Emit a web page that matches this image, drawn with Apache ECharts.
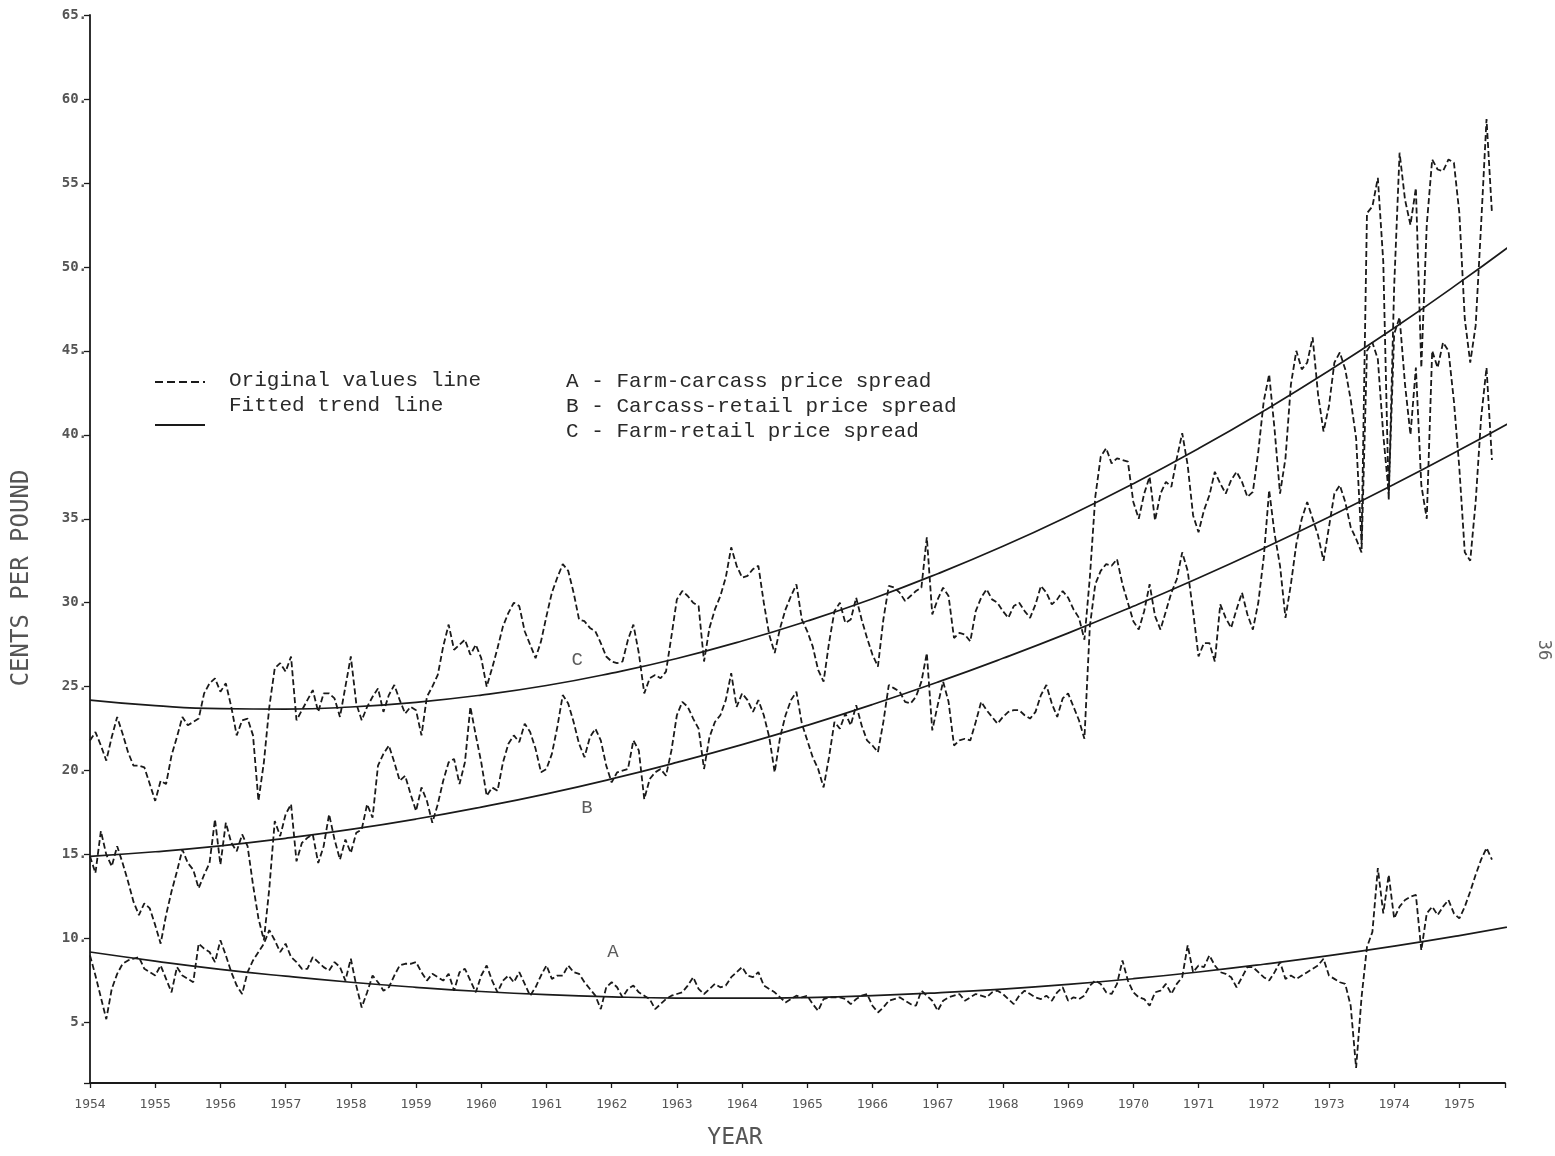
<!DOCTYPE html>
<html><head><meta charset="utf-8">
<script src="https://cdn.jsdelivr.net/npm/echarts@6/dist/echarts.min.js"></script>
<style>html,body{margin:0;padding:0;background:#fff}#c{width:1555px;height:1156px}</style>
</head><body><div id="c"></div>
<script>
// Monthly observations, starting January 1954 (one value per month)
const startYear = 1954;
const seriesA = [
9.0,7.8,6.5,5.2,7.0,7.9,8.5,8.7,8.8,8.9, 8.2,8.0,7.8,8.4,7.6,6.8,8.3,7.8,7.6,7.4,
9.7,9.4,9.2,8.6,9.9,9.0,8.0,7.2,6.7,8.0, 8.7,9.2,9.7,10.5,9.9,9.2,9.7,8.9,8.6,8.2,
8.2,8.9,8.6,8.3,8.1,8.6,8.3,7.5,8.8,7.2, 5.9,6.8,7.8,7.4,6.9,7.1,7.8,8.4,8.5,8.5,
8.6,8.0,7.5,7.9,7.7,7.5,7.9,6.9,8.0,8.2, 7.5,6.8,7.8,8.4,7.5,6.8,7.5,7.8,7.4,8.0,
7.3,6.6,7.1,7.8,8.4,7.6,7.8,7.8,8.4,8.0, 7.9,7.4,7.0,6.6,5.8,7.1,7.4,7.1,6.5,7.0,
7.2,6.8,6.6,6.4,5.8,6.1,6.4,6.6,6.7,6.8, 7.2,7.7,7.0,6.7,7.0,7.3,7.1,7.2,7.7,8.0,
8.3,7.8,7.7,8.0,7.2,7.0,6.8,6.5,6.2,6.4, 6.6,6.5,6.6,6.1,5.7,6.4,6.5,6.5,6.5,6.4,
6.1,6.4,6.6,6.7,6.0,5.6,5.9,6.3,6.4,6.5, 6.3,6.1,6.0,6.9,6.6,6.3,5.7,6.3,6.5,6.6,
6.7,6.3,6.5,6.7,6.6,6.5,6.8,6.9,6.7,6.4, 6.1,6.6,6.9,6.7,6.5,6.4,6.6,6.3,6.8,7.1,
6.3,6.5,6.4,6.6,7.2,7.5,7.3,6.8,6.7,7.3, 8.7,7.5,6.8,6.5,6.4,6.0,6.8,6.9,7.3,6.7,
7.3,7.7,9.6,8.0,8.4,8.3,9.0,8.4,8.0,7.9, 7.7,7.1,7.7,8.3,8.3,8.0,7.7,7.5,8.0,8.6,
7.6,7.8,7.6,7.8,8.0,8.2,8.4,8.8,7.8,7.6, 7.4,7.3,6.0,2.3,6.5,9.5,10.4,14.2,11.5,13.8,
11.2,11.9,12.3,12.5,12.6,9.3,11.5,11.9,11.4,11.9, 12.3,11.5,11.2,11.9,12.8,13.8,14.7,15.4,14.7
];
const seriesB = [
14.9,13.9,16.4,15.0,14.3,15.5,14.5,13.4,12.2,11.4, 12.1,11.8,10.8,9.7,11.4,12.8,14.0,15.3,14.5,14.1,
13.0,13.8,14.5,17.1,14.4,16.9,15.7,15.2,16.2,15.5, 13.2,11.2,9.9,13.0,17.0,16.1,17.4,18.0,14.6,15.7,
16.0,16.2,14.5,15.5,17.4,15.9,14.7,15.9,15.1,16.3, 16.5,18.0,17.2,20.3,21.0,21.5,20.5,19.4,19.7,18.6,
17.6,19.0,18.2,16.9,18.0,19.4,20.5,20.7,19.2,20.5, 23.8,22.1,20.5,18.5,19.0,18.8,20.5,21.6,22.1,21.7,
22.8,22.3,21.3,19.9,20.1,21.0,22.6,24.5,24.0,22.9, 21.6,20.8,22.0,22.5,21.8,20.3,19.3,19.9,20.0,20.1,
21.8,21.2,18.3,19.5,19.9,20.1,19.7,21.2,23.3,24.1, 23.8,23.1,22.5,20.1,22.0,22.9,23.3,24.2,25.8,23.8,
24.6,24.2,23.5,24.2,23.3,22.0,19.9,22.0,23.3,24.2, 24.7,22.8,21.8,20.8,20.1,19.0,20.8,22.9,22.5,23.4,
22.7,23.9,22.7,21.8,21.5,21.1,22.9,25.1,24.9,24.7, 24.1,24.0,24.4,25.3,27.0,22.4,23.9,25.3,24.1,21.5,
21.8,21.9,21.8,22.9,24.1,23.6,23.2,22.8,23.2,23.5, 23.6,23.6,23.3,23.1,23.5,24.5,25.1,24.0,23.2,24.3,
24.6,23.8,23.0,21.9,28.6,31.1,31.9,32.3,32.2,32.6, 31.1,30.0,28.9,28.4,29.5,31.1,29.2,28.4,29.5,30.6,
31.4,33.0,31.9,29.5,26.8,27.6,27.6,26.5,29.9,29.1, 28.5,29.6,30.6,29.3,28.4,30.0,32.7,36.7,34.1,32.2,
29.1,31.1,33.5,35.0,36.0,35.0,34.0,32.5,34.5,36.5, 37.0,36.0,34.5,33.8,33.0,45.0,45.5,44.5,40.0,36.5,
46.0,47.0,43.0,40.0,44.0,37.0,35.0,45.0,44.0,45.5, 45.0,42.0,38.0,33.0,32.5,36.0,41.0,44.0,38.5
];
const seriesC = [
21.8,22.3,21.5,20.6,22.0,23.2,22.2,21.1,20.3,20.3, 20.2,19.2,18.2,19.4,19.2,20.9,22.0,23.2,22.7,22.9,
23.1,24.6,25.2,25.5,24.7,25.2,23.8,22.1,23.0,23.1, 22.1,18.2,20.5,23.8,26.1,26.4,25.9,26.8,23.0,23.6,
24.2,24.8,23.5,24.6,24.6,24.3,23.2,25.0,26.8,24.0, 23.0,23.8,24.4,24.9,23.5,24.5,25.1,24.2,23.4,23.8,
23.6,22.1,24.4,25.0,25.7,27.4,28.7,27.2,27.5,27.8, 26.9,27.5,26.7,25.0,26.1,27.3,28.6,29.4,30.0,29.8,
28.3,27.5,26.7,27.7,29.2,30.6,31.5,32.3,31.9,30.6, 29.0,28.9,28.5,28.3,27.6,26.8,26.5,26.4,26.5,27.8,
28.7,27.0,24.6,25.5,25.7,25.5,25.9,28.0,30.2,30.7, 30.4,30.0,29.8,26.5,28.5,29.6,30.4,31.5,33.3,32.2,
31.5,31.6,32.0,32.2,30.0,28.1,27.0,28.5,29.6,30.4, 31.1,29.0,28.3,27.4,26.0,25.3,27.6,29.5,30.0,28.8,
29.0,30.3,29.0,27.9,26.9,26.2,29.0,31.0,30.9,30.6, 30.1,30.4,30.7,30.9,33.9,29.3,30.2,30.9,30.4,27.9,
28.2,28.1,27.7,29.5,30.3,30.8,30.2,30.0,29.5,29.1, 29.8,30.0,29.5,29.1,29.9,31.0,30.6,29.9,30.2,30.7,
30.3,29.6,29.1,27.8,31.5,36.3,38.7,39.2,38.3,38.6, 38.5,38.4,36.0,35.0,36.5,37.5,34.9,36.5,37.2,36.9,
38.6,40.1,38.2,35.2,34.2,35.5,36.4,37.8,37.1,36.5, 37.3,37.8,37.2,36.3,36.6,39.0,42.0,43.6,40.3,36.5,
38.6,43.0,45.0,43.9,44.3,45.8,42.4,40.2,41.7,44.3, 44.9,43.9,42.1,39.8,33.5,53.2,53.6,55.3,50.3,36.1,
48.8,56.8,54.0,52.5,54.7,44.0,52.5,56.4,55.8,55.7, 56.4,56.2,53.2,46.9,44.3,46.5,52.5,58.8,53.2
];
// Fitted trend lines read at each year
const trendYears = [1954,1955,1956,1957,1958,1959,1960,1961,1962,1963,1964,1965,1966,1967,1968,1969,1970,1971,1972,1973,1974,1975,1975.9];
const trendA = [9.20,8.66,8.17,7.76,7.40,7.10,6.85,6.66,6.53,6.46,6.45,6.49,6.60,6.77,6.99,7.27,7.61,8.01,8.47,8.98,9.55,10.18,10.80];
const trendB = [14.90,15.17,15.52,15.97,16.50,17.12,17.83,18.62,19.51,20.49,21.55,22.70,23.94,25.27,26.69,28.19,29.79,31.47,33.24,35.10,37.05,39.09,41.00];
const trendC = [24.20,23.87,23.69,23.67,23.79,24.07,24.50,25.07,25.81,26.68,27.72,28.91,30.24,31.73,33.36,35.15,37.09,39.18,41.42,43.81,46.36,49.06,51.61];
// Curve labels: [text, year, value]
const curveLabels = [['A',1962.02,9.2],['B',1961.62,17.8],['C',1961.47,26.6]];
const legendLeft = ['Original values line','Fitted trend line'];
const legendRight = ['A - Farm-carcass price spread','B - Carcass-retail price spread','C - Farm-retail price spread'];

const monthly = vals => vals.map((v,i)=>[startYear + i/12, v]);
const pair = (xs, ys) => xs.map((x,i)=>[x, ys[i]]);

const ink = '#1a1a1a';
const dashStyle = {color: ink, width: 1.8, type: [6,3]};
const solidStyle = {color: ink, width: 1.7};
const mono = 'DejaVu Sans Mono';
const typew = 'Liberation Mono';

const chart = echarts.init(document.getElementById('c'), null, {renderer:'canvas'});
chart.setOption({
  backgroundColor: '#ffffff',
  animation: false,
  grid: {left: 90, right: 50, top: 15, bottom: 73},
  xAxis: {
    type: 'value', min: 1954, max: 1975.7, interval: 1,
    axisLine: {lineStyle: {color: ink, width: 1.8}},
    axisTick: {length: 5, lineStyle: {color: ink, width: 1.3}},
    splitLine: {show: false},
    axisLabel: {
      margin: 15, fontFamily: mono, fontSize: 13, color: '#555',
      formatter: v => Number.isInteger(v) ? String(v) : ''
    }
  },
  yAxis: {
    type: 'value', min: 1.4, max: 65, minInterval: 5, maxInterval: 5, splitNumber: 13,
    axisLine: {show: true, lineStyle: {color: ink, width: 1.8}},
    axisTick: {show: true, length: 6, lineStyle: {color: ink, width: 1.3}},
    splitLine: {show: false},
    axisLabel: {
      margin: 3, fontFamily: mono, fontSize: 14, fontWeight: 'bold', color: '#555',
      formatter: v => (Math.abs(v % 5) < 1e-9) ? (v + '.') : ''
    }
  },
  series: [
    {name:'A', type:'line', data: monthly(seriesA), showSymbol:false, lineStyle: dashStyle},
    {name:'B', type:'line', data: monthly(seriesB), showSymbol:false, lineStyle: dashStyle},
    {name:'C', type:'line', data: monthly(seriesC), showSymbol:false, lineStyle: dashStyle},
    {name:'Trend A', type:'line', data: pair(trendYears, trendA), smooth: true, clip: false, showSymbol:false, lineStyle: solidStyle},
    {name:'Trend B', type:'line', data: pair(trendYears, trendB), smooth: true, clip: false, showSymbol:false, lineStyle: solidStyle},
    {name:'Trend C', type:'line', data: pair(trendYears, trendC), smooth: true, clip: false, showSymbol:false, lineStyle: solidStyle},
    {name:'labels', type:'scatter', symbolSize: 0,
      data: curveLabels.map(d => ({name: d[0], value: [d[1], d[2]]})),
      label: {show: true, position: 'inside', formatter: p => p.name, fontFamily: typew, fontSize: 19, color: '#333'}
    }
  ],
  graphic: [
    {type:'line', shape:{x1:155,y1:382,x2:205,y2:382}, style:{stroke:ink, lineWidth:2, lineDash:[8,4]}},
    {type:'line', shape:{x1:155,y1:425,x2:205,y2:425}, style:{stroke:ink, lineWidth:2}},
    {type:'text', left:229, top:370, style:{text: legendLeft[0], font:'21px "Liberation Mono"', fill:'#2a2a2a'}},
    {type:'text', left:229, top:395, style:{text: legendLeft[1], font:'21px "Liberation Mono"', fill:'#2a2a2a'}},
    {type:'text', left:566, top:371, style:{text: legendRight[0], font:'21px "Liberation Mono"', fill:'#2a2a2a'}},
    {type:'text', left:566, top:396, style:{text: legendRight[1], font:'21px "Liberation Mono"', fill:'#2a2a2a'}},
    {type:'text', left:566, top:421, style:{text: legendRight[2], font:'21px "Liberation Mono"', fill:'#2a2a2a'}},
    {type:'text', x:22, y:578, rotation: Math.PI/2,
      style:{text:'CENTS PER POUND', font:'24px "DejaVu Sans Mono"', fill:'#555', align:'center', verticalAlign:'middle'}},
    {type:'text', x:735, y:1138,
      style:{text:'YEAR', font:'23px "DejaVu Sans Mono"', fill:'#555', align:'center', verticalAlign:'middle'}},
    {type:'text', x:1543, y:650, rotation: -Math.PI/2,
      style:{text:'36', font:'17px "DejaVu Sans Mono"', fill:'#666', align:'center', verticalAlign:'middle'}}
  ]
});
</script></body></html>
